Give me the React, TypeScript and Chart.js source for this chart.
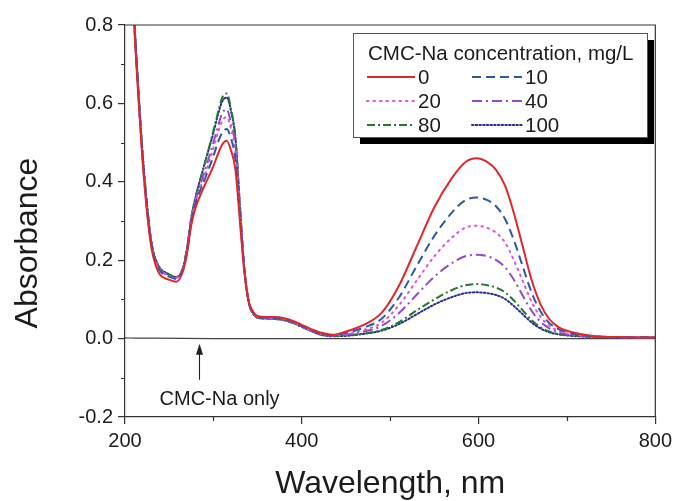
import React, { useEffect, useRef } from "react";
import { Chart, registerables } from "chart.js";

Chart.register(...registerables);

// ---------- data ----------
const wavelengths = [200, 205, 210, 215, 220, 225, 230, 235, 240, 250, 258, 265, 270, 275, 280, 290, 300, 305, 310, 315, 320, 325, 330, 335, 340, 345, 350, 360, 370, 380, 390, 400, 410, 420, 435, 450, 470, 490, 510, 530, 550, 570, 585, 598, 610, 620, 630, 640, 650, 660, 670, 680, 690, 700, 720, 740, 760, 780, 800];

const conc0 = [1.5, 1.1, 0.82, 0.62, 0.45, 0.32, 0.23, 0.185, 0.162, 0.15, 0.145, 0.168, 0.215, 0.29, 0.335, 0.39, 0.44, 0.47, 0.495, 0.505, 0.48, 0.43, 0.3, 0.17, 0.095, 0.068, 0.058, 0.055, 0.055, 0.052, 0.045, 0.035, 0.025, 0.016, 0.01, 0.018, 0.035, 0.065, 0.135, 0.235, 0.335, 0.41, 0.45, 0.46, 0.45, 0.43, 0.39, 0.32, 0.235, 0.15, 0.088, 0.05, 0.03, 0.02, 0.01, 0.005, 0.004, 0.003, 0.003];
const conc10 = [1.5, 1.1, 0.83, 0.63, 0.46, 0.33, 0.24, 0.195, 0.172, 0.158, 0.152, 0.172, 0.22, 0.297, 0.345, 0.405, 0.465, 0.5, 0.525, 0.535, 0.51, 0.455, 0.315, 0.175, 0.095, 0.067, 0.056, 0.053, 0.053, 0.05, 0.043, 0.033, 0.023, 0.014, 0.009, 0.014, 0.028, 0.05, 0.105, 0.185, 0.262, 0.322, 0.353, 0.36, 0.353, 0.337, 0.305, 0.251, 0.184, 0.118, 0.07, 0.04, 0.025, 0.016, 0.008, 0.005, 0.004, 0.003, 0.003];
const conc20 = [1.5, 1.1, 0.83, 0.63, 0.46, 0.33, 0.24, 0.197, 0.175, 0.16, 0.155, 0.174, 0.223, 0.3, 0.35, 0.415, 0.485, 0.525, 0.555, 0.565, 0.535, 0.475, 0.325, 0.178, 0.094, 0.066, 0.055, 0.052, 0.052, 0.049, 0.042, 0.032, 0.022, 0.013, 0.008, 0.011, 0.022, 0.04, 0.085, 0.148, 0.21, 0.258, 0.283, 0.288, 0.282, 0.27, 0.245, 0.2, 0.147, 0.094, 0.056, 0.033, 0.02, 0.013, 0.007, 0.004, 0.004, 0.003, 0.003];
const conc40 = [1.5, 1.1, 0.83, 0.63, 0.46, 0.33, 0.24, 0.198, 0.176, 0.161, 0.156, 0.175, 0.225, 0.303, 0.355, 0.425, 0.5, 0.54, 0.575, 0.585, 0.55, 0.49, 0.33, 0.18, 0.093, 0.065, 0.054, 0.052, 0.051, 0.048, 0.041, 0.031, 0.021, 0.012, 0.007, 0.01, 0.018, 0.032, 0.065, 0.112, 0.158, 0.193, 0.21, 0.214, 0.21, 0.2, 0.182, 0.15, 0.11, 0.071, 0.043, 0.026, 0.016, 0.011, 0.006, 0.004, 0.003, 0.003, 0.003];
const conc80 = [1.5, 1.1, 0.84, 0.64, 0.47, 0.34, 0.245, 0.2, 0.178, 0.163, 0.157, 0.177, 0.228, 0.308, 0.362, 0.445, 0.53, 0.575, 0.615, 0.625, 0.585, 0.51, 0.34, 0.18, 0.092, 0.064, 0.053, 0.051, 0.05, 0.047, 0.04, 0.03, 0.02, 0.011, 0.006, 0.008, 0.013, 0.022, 0.042, 0.072, 0.1, 0.124, 0.136, 0.139, 0.136, 0.13, 0.118, 0.097, 0.072, 0.047, 0.029, 0.018, 0.012, 0.009, 0.006, 0.004, 0.003, 0.003, 0.003];
const conc100 = [1.5, 1.1, 0.84, 0.64, 0.47, 0.34, 0.245, 0.2, 0.179, 0.164, 0.157, 0.177, 0.228, 0.308, 0.362, 0.445, 0.525, 0.57, 0.605, 0.615, 0.58, 0.51, 0.34, 0.18, 0.092, 0.064, 0.053, 0.051, 0.05, 0.047, 0.04, 0.03, 0.02, 0.011, 0.006, 0.007, 0.012, 0.02, 0.037, 0.062, 0.087, 0.106, 0.116, 0.118, 0.116, 0.111, 0.101, 0.083, 0.062, 0.041, 0.026, 0.016, 0.011, 0.008, 0.005, 0.004, 0.003, 0.003, 0.003];

const cmcOnlyWavelengths = [200, 215, 230, 300, 400, 500, 600, 700, 800];
const cmcOnlyValues = [0.002, 0.001, 0.001, 0, 0, 0, 0, 0, 0];

const seriesLabels = ["0", "10", "20", "40", "80", "100"];
const legendTitle = "CMC-Na concentration, mg/L";
const xTitle = "Wavelength, nm";
const yTitle = "Absorbance";
const annotationText = "CMC-Na only";
const annotationWavelength = 284;
const xMajorStep = 200;
const xMinorTicks = [300, 500, 700];
const yMajorStep = 0.2;
const yMinorTicks = [-0.1, 0.1, 0.3, 0.5, 0.7];

const FONT = "'Liberation Sans', Arial, Helvetica, sans-serif";
const TEXT = "#1c1c1c";
const AXIS = "#333333";

const styles = [
  { color: "#e2262c", dash: [] as number[], cap: "butt" },
  { color: "#2b5aa3", dash: [9, 5], cap: "butt" },
  { color: "#e052d6", dash: [1.5, 5], cap: "round" },
  { color: "#9448cc", dash: [10, 4, 2, 4], cap: "butt" },
  { color: "#22782e", dash: [8, 3, 2, 3], cap: "butt" },
  { color: "#26308c", dash: [1.5, 2.2], cap: "round" },
];

const decorPlugin = {
  id: "decor",
  afterDraw(chart: any) {
    const { ctx, chartArea: a, scales } = chart;
    const x = scales.x;
    const y = scales.y;
    ctx.save();

    // frame (top + right)
    ctx.strokeStyle = AXIS;
    ctx.lineWidth = 1.2;
    ctx.setLineDash([]);
    ctx.beginPath();
    ctx.moveTo(a.left, a.top);
    ctx.lineTo(a.right, a.top);
    ctx.lineTo(a.right, a.bottom);
    ctx.stroke();

    // minor ticks
    ctx.beginPath();
    xMinorTicks.forEach((v) => {
      const px = Math.round(x.getPixelForValue(v)) + 0.5;
      ctx.moveTo(px, a.bottom);
      ctx.lineTo(px, a.bottom + 4);
    });
    yMinorTicks.forEach((v) => {
      const py = Math.round(y.getPixelForValue(v)) + 0.5;
      ctx.moveTo(a.left, py);
      ctx.lineTo(a.left - 4, py);
    });
    ctx.stroke();

    // annotation arrow
    const ax = Math.round(x.getPixelForValue(annotationWavelength)) + 0.5;
    const ayBottom = y.getPixelForValue(-0.105);
    const ayTop = y.getPixelForValue(-0.013);
    ctx.strokeStyle = "#222";
    ctx.lineWidth = 1.1;
    ctx.beginPath();
    ctx.moveTo(ax, ayBottom);
    ctx.lineTo(ax, ayTop + 6);
    ctx.stroke();
    ctx.fillStyle = "#222";
    ctx.beginPath();
    ctx.moveTo(ax, ayTop);
    ctx.lineTo(ax - 3.5, ayTop + 11);
    ctx.lineTo(ax + 3.5, ayTop + 11);
    ctx.closePath();
    ctx.fill();

    ctx.fillStyle = TEXT;
    ctx.font = `20px ${FONT}`;
    ctx.textAlign = "center";
    ctx.textBaseline = "middle";
    ctx.fillText(annotationText, x.getPixelForValue(307), y.getPixelForValue(-0.155));

    // legend
    const lx = 353, ly = 33, lw = 294, lh = 104;
    ctx.fillStyle = "#000";
    ctx.fillRect(lx + 7, ly + 7, lw, lh);
    ctx.fillStyle = "#fff";
    ctx.fillRect(lx, ly, lw, lh);
    ctx.strokeStyle = "#555";
    ctx.lineWidth = 1;
    ctx.strokeRect(lx + 0.5, ly + 0.5, lw, lh);

    ctx.fillStyle = TEXT;
    ctx.font = `20.5px ${FONT}`;
    ctx.textAlign = "left";
    ctx.textBaseline = "middle";
    ctx.fillText(legendTitle, 368, 54);

    const colX = [367, 472];
    const colLen = [48, 50];
    const rowY = [77, 101, 125];
    const dsets = chart.data.datasets.filter((d: any) => d.inLegend);
    dsets.forEach((d: any, i: number) => {
      const c = i % 2;
      const r = Math.floor(i / 2);
      const yy = rowY[r];
      ctx.strokeStyle = d.borderColor;
      ctx.lineWidth = d.borderWidth;
      ctx.lineCap = d.borderCapStyle;
      ctx.setLineDash(d.borderDash || []);
      ctx.beginPath();
      ctx.moveTo(colX[c], yy);
      ctx.lineTo(colX[c] + colLen[c], yy);
      ctx.stroke();
      ctx.setLineDash([]);
      ctx.lineCap = "butt";
      ctx.fillStyle = TEXT;
      ctx.font = `20.5px ${FONT}`;
      ctx.fillText(d.label, colX[c] + colLen[c] + 3, yy + 1);
    });

    // axis titles
    ctx.fillStyle = TEXT;
    ctx.font = `32px ${FONT}`;
    ctx.textAlign = "center";
    ctx.textBaseline = "middle";
    ctx.fillText(xTitle, (a.left + a.right) / 2, 484);
    ctx.save();
    ctx.translate(28, 243);
    ctx.rotate(-Math.PI / 2);
    ctx.fillText(yTitle, 0, 0);
    ctx.restore();

    ctx.restore();
  },
};

export default function App() {
  const canvasRef = useRef<HTMLCanvasElement>(null);

  useEffect(() => {
    if (!canvasRef.current) return;
    const series = [conc0, conc10, conc20, conc40, conc80, conc100];
    const datasets: any[] = series.map((vals, i) => ({
      label: seriesLabels[i],
      inLegend: true,
      data: wavelengths.map((w, j) => ({ x: w, y: vals[j] })),
      borderColor: styles[i].color,
      borderDash: styles[i].dash,
      borderCapStyle: styles[i].cap,
      borderWidth: 2,
      pointRadius: 0,
      fill: false,
      cubicInterpolationMode: "monotone",
    }));
    datasets.push({
      label: annotationText,
      inLegend: false,
      data: cmcOnlyWavelengths.map((w, j) => ({ x: w, y: cmcOnlyValues[j] })),
      borderColor: "#444",
      borderWidth: 1.2,
      pointRadius: 0,
      fill: false,
      cubicInterpolationMode: "monotone",
    });

    const chart = new Chart(canvasRef.current, {
      type: "line",
      data: { datasets },
      options: {
        animation: false,
        responsive: true,
        maintainAspectRatio: false,
        layout: { padding: { top: 25, right: 19, left: 0, bottom: 0 } },
        plugins: { legend: { display: false }, tooltip: { enabled: false } },
        scales: {
          x: {
            type: "linear",
            min: 200,
            max: 800,
            afterFit: (s: any) => { s.height = 84; },
            ticks: { stepSize: xMajorStep, color: TEXT, font: { size: 20, family: FONT }, padding: 5, maxRotation: 0 },
            grid: { drawOnChartArea: false, drawTicks: true, tickLength: 7, color: AXIS, lineWidth: 1.2 },
            border: { display: true, color: AXIS, width: 1.2 },
          },
          y: {
            type: "linear",
            min: -0.2,
            max: 0.8,
            afterFit: (s: any) => { s.width = 125; },
            ticks: {
              stepSize: yMajorStep,
              color: TEXT,
              font: { size: 20, family: FONT },
              padding: 5,
              callback: (v: any) => Number(v).toFixed(1),
            },
            grid: { drawOnChartArea: false, drawTicks: true, tickLength: 7, color: AXIS, lineWidth: 1.2 },
            border: { display: true, color: AXIS, width: 1.2 },
          },
        },
      } as any,
      plugins: [decorPlugin],
    });
    return () => chart.destroy();
  }, []);

  return (
    <div style={{ position: "absolute", left: 0, top: 0, width: 677, height: 501, background: "#fff" }}>
      <canvas ref={canvasRef} />
    </div>
  );
}
